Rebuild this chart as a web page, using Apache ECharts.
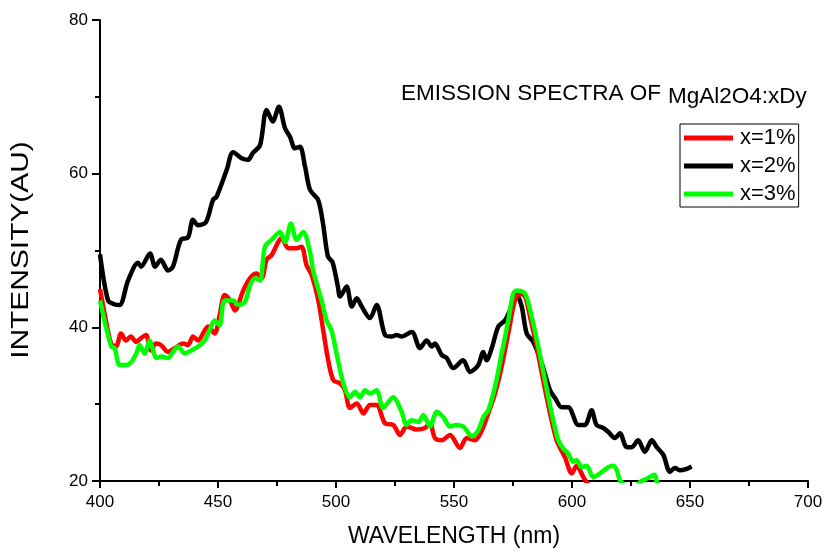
<!DOCTYPE html>
<html>
<head>
<meta charset="utf-8">
<script src="https://cdn.jsdelivr.net/npm/echarts@6/dist/echarts.min.js"></script>
<style>
  html, body { margin: 0; padding: 0; background: #fff; }
  #chart { width: 827px; height: 554px; }
</style>
</head>
<body>
<div id="chart"></div>
<script>
// x=1% (red)
const redNm = [400, 402.5, 404.7, 406.8, 408.9, 411, 413.1, 415.3, 417.4, 419.5, 421.6, 423.7, 425.8, 428.8, 431.8, 435.2, 437.3, 439.4, 441.5, 444.4, 445.8, 448.6, 450.7, 452.8, 455.1, 457.2, 460.7, 463.6, 466.4, 468.5, 470.6, 472.7, 477, 479.8, 483.3, 485.4, 487.5, 489.7, 492.5, 494.6, 496.7, 498.9, 501.7, 503.8, 505.9, 508.8, 511.6, 514.4, 517.2, 520.8, 524.3, 527.1, 530, 534.2, 537.7, 539.8, 541.9, 544.8, 548.3, 552.5, 555.4, 558.9, 561.7, 564.5, 567.4, 570.2, 573, 575.8, 578, 580.1, 582.2, 585, 587.8, 590.7, 593.5, 597, 599.9, 602, 604.8, 606.9, 610, 614];
const redVal = [45, 40.9, 37.9, 37.5, 39.2, 38.3, 38.8, 38.1, 38.6, 39, 37, 37.9, 37.7, 36.8, 37.3, 37.9, 37.7, 38.8, 38.3, 39.6, 40.1, 39.2, 41.6, 44.2, 43.5, 42.2, 44.8, 46.4, 47, 46.4, 48.8, 49.4, 51.6, 50.3, 50.3, 50.5, 48.1, 46.8, 43.5, 39.6, 35.7, 33.1, 32.7, 31.8, 29.5, 30.1, 28.8, 29.9, 29.9, 27.5, 27.3, 26, 27.1, 26.7, 26.9, 27.5, 25.6, 25.3, 26, 24.3, 25.6, 25.3, 26.5, 28.8, 31.4, 34.9, 39.2, 43.5, 44.4, 44, 41.4, 37.5, 33.1, 28.8, 25.3, 23.1, 21, 22, 20.5, 19.5, 18, 17];

// x=2% (black)
const blackNm = [400, 403.4, 406, 408.3, 411.9, 416.1, 417.4, 421.2, 423.3, 425.8, 428.8, 430.9, 434.3, 437.3, 439.4, 441.5, 444.9, 447.9, 449.4, 453.7, 456.4, 460, 462.7, 464.8, 467.8, 470.6, 473.2, 475.8, 478.4, 480.5, 482.6, 484.7, 486.9, 489, 492.4, 494.5, 496.6, 498.5, 500.8, 501.7, 504.5, 506.7, 508.8, 510.9, 514.4, 517.2, 520.8, 523.6, 525.7, 527.8, 532.1, 535.6, 538.4, 540.6, 541.9, 544.8, 546.9, 549.7, 553.9, 556.8, 560.3, 562.4, 563.8, 566, 568.8, 571.6, 573.7, 576.6, 578.7, 580.8, 583.6, 587.2, 590.7, 592.8, 595.6, 598.4, 602.7, 605.5, 608.3, 610.4, 613.3, 615.3, 618.2, 620.3, 623.2, 625.3, 628, 630.9, 633.8, 635.9, 638.7, 641.5, 643.6, 645.8, 647.9, 650.7];
const blackVal = [49.5, 43.5, 43, 42.9, 46.1, 48.4, 47.9, 49.6, 47.9, 48.8, 47.4, 47.9, 51.4, 51.7, 54, 53.3, 53.7, 56.6, 57, 60.5, 62.8, 62, 61.8, 62.7, 63.7, 68.3, 66.8, 68.7, 65.9, 64.8, 63.3, 63.5, 60.9, 57.9, 56.6, 53.5, 49.2, 48.5, 45.3, 44, 45.3, 42.7, 43.8, 42.7, 41.2, 42.9, 39, 38.8, 39, 38.8, 39.4, 37.3, 38.3, 37.5, 37.9, 36.4, 36, 34.7, 35.7, 34.2, 35.1, 36.8, 35.7, 37.3, 40.1, 40.9, 42.2, 44.2, 42.7, 39.2, 38.1, 35.3, 31.8, 30.8, 29.6, 29.6, 27.3, 27.3, 29.2, 27.3, 26.9, 26.4, 25.6, 26.2, 24.4, 24.4, 25.3, 23.8, 25.3, 24.4, 23.4, 21.2, 21.7, 21.4, 21.5, 21.9];

// x=3% (green)
const greenNm = [400, 402.5, 404.8, 406.2, 408.3, 411.1, 413.3, 415.4, 416.8, 418.9, 421.1, 422.5, 423.9, 426, 428.8, 430.9, 433.1, 435.9, 438.7, 441.5, 444.4, 446.4, 448.6, 450.7, 452.8, 456.5, 458.6, 461.4, 463.6, 465.7, 467.8, 469.9, 472.8, 476.3, 478.4, 480.9, 483.3, 486.1, 489, 490.3, 493.9, 496, 498.1, 500.3, 503.1, 505.9, 508.1, 510.2, 512.3, 514.4, 517.2, 520, 524.2, 527.8, 529.9, 532, 534.9, 537, 539.8, 542.7, 545.5, 548.3, 551.1, 553.9, 555.3, 557.5, 560.3, 562.4, 564.5, 567.4, 570.2, 573, 575.1, 576.5, 580.1, 582.9, 585.7, 588.6, 591.4, 594.2, 596.3, 598.4, 600.5, 602, 604.1, 606.2, 609, 611.9, 615.4, 617.5, 619, 620.3, 623, 626, 629.5, 632.3, 634.9, 635.9, 637.5];
const greenVal = [43.5, 40.1, 37.5, 37.3, 35.1, 35.1, 35.5, 36.6, 37.7, 36.6, 38.3, 37, 36, 36.2, 36, 36.8, 37.5, 36.6, 37, 37.5, 38.3, 39.6, 40.9, 40.3, 43.5, 43.5, 42.9, 43.3, 45.5, 46.4, 46.1, 50.5, 51.4, 52.4, 51.1, 53.5, 51.4, 52.4, 49.8, 47.4, 43.5, 40.9, 39.6, 36.5, 32.7, 30.9, 31.6, 30.9, 31.8, 31.4, 31.8, 29.5, 30.9, 29, 27.3, 27.9, 27.7, 28.6, 27.1, 29, 28.3, 27.1, 27.3, 27.1, 26.6, 25.8, 26.6, 28.3, 29.2, 32.3, 36.6, 40.9, 44.4, 44.8, 44.4, 41.4, 37.5, 33.1, 28.8, 25.3, 24.2, 23.6, 22.5, 22.7, 21.8, 22, 20.5, 21, 21.8, 22, 21.4, 20.1, 19.3, 19.2, 20, 20.4, 20.8, 20, 19];

const xTicks = { min: 400, max: 700, interval: 50 };
const yTicks = { min: 20, max: 80, interval: 20 };

const zip = (xs, ys) => xs.map((x, i) => [x, ys[i]]);

const chart = echarts.init(document.getElementById('chart'), null, { renderer: 'canvas' });

const font = 'Liberation Sans, Arial, sans-serif';

const lineSeries = (name, color, xs, ys) => ({
  name,
  type: 'line',
  data: zip(xs, ys),
  showSymbol: false,
  smooth: 0.3,
  clip: true,
  lineStyle: { color, width: 4.5 },
  itemStyle: { color }
});

chart.setOption({
  animation: false,
  backgroundColor: '#fff',
  textStyle: { fontFamily: font },
  title: [
    { text: 'EMISSION SPECTRA OF', left: 401, top: 82, padding: 0,
      textStyle: { fontFamily: font, fontSize: 22.5, fontWeight: 'normal', color: '#000' } },
    { text: 'MgAl2O4:xDy', left: 668, top: 85, padding: 0,
      textStyle: { fontFamily: font, fontSize: 22.5, fontWeight: 'normal', color: '#000' } }
  ],
  // y axis title is a bit stretched along its length in the original
  graphic: [{
    type: 'text',
    x: 22,
    y: 250,
    rotation: Math.PI / 2,
    scaleX: 1.3,
    style: {
      text: 'INTENSITY(AU)',
      font: '23px "Liberation Sans", Arial, sans-serif',
      fill: '#000',
      align: 'center',
      verticalAlign: 'middle'
    }
  }],
  legend: {
    orient: 'vertical',
    left: 680,
    top: 124,
    padding: [3, 3, 2, 4],
    itemGap: 6,
    itemWidth: 49,
    itemHeight: 5,
    icon: 'rect',
    borderColor: '#000',
    borderWidth: 1,
    borderRadius: 0,
    data: ['x=1%', 'x=2%', 'x=3%'],
    textStyle: { fontFamily: font, fontSize: 22, color: '#000', padding: [0, 0, 0, 2] }
  },
  grid: { left: 100, right: 19, top: 20, bottom: 73, containLabel: false },
  xAxis: {
    type: 'value',
    min: xTicks.min,
    max: xTicks.max,
    interval: xTicks.interval,
    name: 'WAVELENGTH (nm)',
    nameLocation: 'middle',
    nameGap: 44,
    nameTextStyle: { fontFamily: font, fontSize: 23, color: '#000' },
    axisLine: { show: true, lineStyle: { color: '#000', width: 2 } },
    axisTick: { show: true, length: 7, lineStyle: { color: '#000', width: 2 } },
    minorTick: { show: true, splitNumber: 2, length: 5, lineStyle: { color: '#000', width: 2 } },
    axisLabel: { fontFamily: font, fontSize: 17, color: '#000', margin: 13 },
    splitLine: { show: false }
  },
  yAxis: {
    type: 'value',
    min: yTicks.min,
    max: yTicks.max,
    interval: yTicks.interval,
    axisLine: { show: true, lineStyle: { color: '#000', width: 2 } },
    axisTick: { show: true, length: 8, lineStyle: { color: '#000', width: 2 } },
    minorTick: { show: true, splitNumber: 2, length: 5, lineStyle: { color: '#000', width: 2 } },
    axisLabel: { fontFamily: font, fontSize: 17, color: '#000', margin: 12 },
    splitLine: { show: false }
  },
  series: [
    lineSeries('x=2%', '#000000', blackNm, blackVal),
    lineSeries('x=1%', '#ff0000', redNm, redVal),
    lineSeries('x=3%', '#00ff00', greenNm, greenVal)
  ]
});
</script>
</body>
</html>
